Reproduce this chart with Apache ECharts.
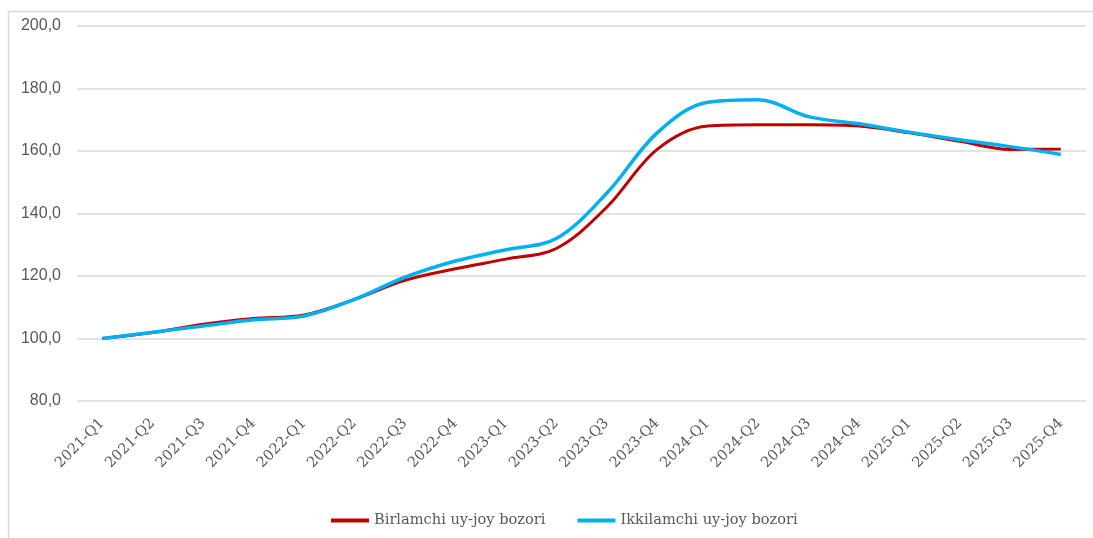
<!DOCTYPE html>
<html>
<head>
<meta charset="utf-8">
<script src="https://cdn.jsdelivr.net/npm/echarts@6/dist/echarts.min.js"></script>
<style>
  html, body { margin: 0; padding: 0; background: #ffffff; }
  #chart { width: 1093px; height: 538px; }
</style>
</head>
<body>
<div id="chart"></div>
<script>
// Quarterly housing price index (2021-Q1 = 100)
const quarters = [
  '2021-Q1', '2021-Q2', '2021-Q3', '2021-Q4',
  '2022-Q1', '2022-Q2', '2022-Q3', '2022-Q4',
  '2023-Q1', '2023-Q2', '2023-Q3', '2023-Q4',
  '2024-Q1', '2024-Q2', '2024-Q3', '2024-Q4',
  '2025-Q1', '2025-Q2', '2025-Q3', '2025-Q4'
];
const primaryMarket = [
  100.0, 101.9, 104.6, 106.4,
  107.5, 112.5, 118.6, 122.3,
  125.4, 128.8, 142.0, 160.5,
  168.0, 168.4, 168.4, 168.0,
  165.8, 163.1, 160.5, 160.6
];
const secondaryMarket = [
  100.0, 102.0, 104.0, 106.0,
  107.2, 112.5, 119.6, 124.8,
  128.4, 132.0, 146.5, 165.8,
  175.6, 176.4, 171.0, 168.7,
  166.0, 163.6, 161.4, 158.9
];
const seriesNames = ['Birlamchi uy-joy bozori', 'Ikkilamchi uy-joy bozori'];

const serifFont = '"DejaVu Serif", "Liberation Serif", serif';
const sansFont = '"Liberation Sans", Arial, sans-serif';
const textColor = '#595959';

const chart = echarts.init(document.getElementById('chart'), null, { renderer: 'canvas' });

chart.setOption({
  backgroundColor: '#ffffff',
  animation: false,
  graphic: [{
    type: 'rect',
    shape: { x: 8.5, y: 11.5, width: 1200, height: 600 },
    style: { fill: 'none', stroke: '#d9d9d9', lineWidth: 1.5 },
    silent: true
  }],
  grid: { left: 77, right: 7, top: 26, bottom: 137 },
  legend: {
    bottom: 5,
    left: 326,
    itemWidth: 38,
    itemHeight: 4,
    itemGap: 32,
    icon: 'rect',
    textStyle: { fontFamily: serifFont, fontSize: 14.6, color: textColor },
    data: seriesNames
  },
  xAxis: {
    type: 'category',
    data: quarters,
    boundaryGap: true,
    axisLine: { show: false },
    axisTick: { show: false },
    axisLabel: {
      rotate: 45,
      interval: 0,
      margin: 20,
      fontFamily: serifFont,
      fontSize: 14.5,
      color: textColor
    }
  },
  yAxis: {
    type: 'value',
    min: 80,
    max: 200,
    interval: 20,
    axisLine: { show: false },
    axisTick: { show: false },
    axisLabel: {
      margin: 16,
      fontFamily: sansFont,
      fontSize: 16,
      color: textColor,
      formatter: v => v.toFixed(1).replace('.', ',')
    },
    splitLine: { lineStyle: { color: '#d9d9d9', width: 1.5 } }
  },
  series: [
    {
      name: seriesNames[0],
      type: 'line',
      data: primaryMarket,
      smooth: 0.35,
      symbol: 'none',
      lineStyle: { color: '#c00000', width: 3 },
      itemStyle: { color: '#c00000' }
    },
    {
      name: seriesNames[1],
      type: 'line',
      data: secondaryMarket,
      smooth: 0.35,
      symbol: 'none',
      lineStyle: { color: '#00b0f0', width: 3.5 },
      itemStyle: { color: '#00b0f0' }
    }
  ]
});
</script>
</body>
</html>
